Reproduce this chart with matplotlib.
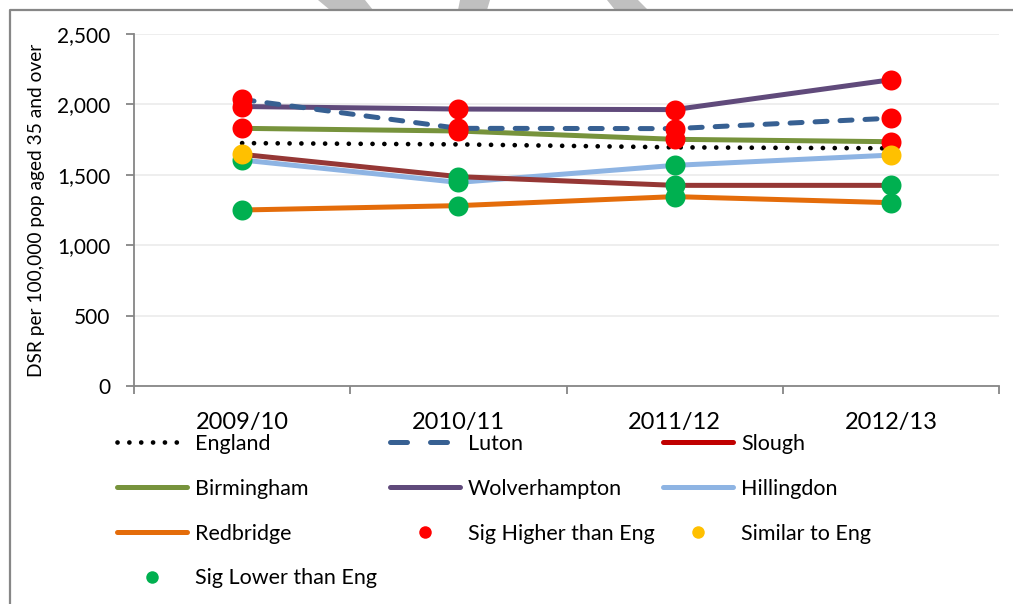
import numpy as np
import matplotlib
matplotlib.use("Agg")
import matplotlib.pyplot as plt
from matplotlib.lines import Line2D
from matplotlib.patches import Polygon

plt.rcParams['font.family'] = ['Lato', 'DejaVu Sans']

# ---------------------------------------------------------
# Data: DSR per 100,000 pop aged 35 and over
# ---------------------------------------------------------
years = ['2009/10', '2010/11', '2011/12', '2012/13']

england       = [1725, 1716, 1695, 1688]
luton         = [2035, 1830, 1828, 1902]
slough        = [1645, 1487, 1425, 1425]
birmingham    = [1830, 1811, 1752, 1735]
wolverhampton = [1985, 1967, 1963, 2175]
hillingdon    = [1605, 1446, 1567, 1640]
redbridge     = [1250, 1281, 1345, 1302]

# significance vs England: H = higher, S = similar, L = lower
sig_luton         = ['H', 'H', 'H', 'H']
sig_slough        = ['S', 'L', 'L', 'L']
sig_birmingham    = ['H', 'H', 'H', 'H']
sig_wolverhampton = ['H', 'H', 'H', 'H']
sig_hillingdon    = ['L', 'L', 'L', 'S']
sig_redbridge     = ['L', 'L', 'L', 'L']

# ---------------------------------------------------------
# Figure
# ---------------------------------------------------------
fig = plt.figure(figsize=(10.13, 6.04), dpi=100)
ax = fig.add_axes([134/1013, 1 - 386/604, (999 - 134)/1013, (386 - 34)/604])

x = np.arange(len(years))
lw = 3.6

ax.plot(x, redbridge, color='#E46C0A', lw=lw, solid_capstyle='round', zorder=3)
ax.plot(x, hillingdon, color='#8EB4E3', lw=lw, solid_capstyle='round', zorder=3)
ax.plot(x, slough, color='#953735', lw=lw, solid_capstyle='round', zorder=3)
ax.plot(x, birmingham, color='#77933C', lw=lw, solid_capstyle='round', zorder=3)
ax.plot(x, wolverhampton, color='#604A7B', lw=lw, solid_capstyle='round', zorder=3)
ax.plot(x, luton, color='#376092', lw=lw, ls=(0, (2.4, 2.6)),
        dash_capstyle='round', zorder=4)
ax.plot(x, england, color='black', lw=3.4, ls=(0, (0.01, 2.5)),
        dash_capstyle='round', zorder=5)

# significance markers
areas = [(luton, sig_luton), (slough, sig_slough), (birmingham, sig_birmingham),
         (wolverhampton, sig_wolverhampton), (hillingdon, sig_hillingdon),
         (redbridge, sig_redbridge)]
sig_style = {'H': ('#FF0000', 7), 'L': ('#00B050', 6), 'S': ('#FFC000', 8)}
for code, (col, z) in sig_style.items():
    px, py = [], []
    for vals, sig in areas:
        for i, s in enumerate(sig):
            if s == code:
                px.append(x[i])
                py.append(vals[i])
    ax.plot(px, py, 'o', ms=14.4, color=col, mec='none', ls='none', zorder=z)

# axes styling
ax.set_xlim(-0.5, len(years) - 0.5)
ax.set_ylim(0, 2500)
ax.set_yticks(np.arange(0, 2501, 500))
ax.yaxis.set_major_formatter(matplotlib.ticker.StrMethodFormatter('{x:,.0f}'))
ax.set_xticks(x)
ax.set_xticklabels(years, fontsize=17)
ax.set_xticks(np.arange(-0.5, len(years), 1), minor=True)
ax.tick_params(axis='x', which='major', length=0, pad=19)
ax.tick_params(axis='x', which='minor', length=6, color='#868686', width=1.3)
ax.tick_params(axis='y', length=6, color='#868686', width=1.3, labelsize=15, pad=11)
ax.grid(axis='y', color='#EDEDED', lw=1.3, zorder=0)
for s in ['top', 'right']:
    ax.spines[s].set_visible(False)
for s in ['left', 'bottom']:
    ax.spines[s].set_color('#868686')
    ax.spines[s].set_linewidth(1.3)
ax.set_ylabel('DSR per 100,000 pop aged 35 and over', fontsize=13.8)
ax.yaxis.set_label_coords(-0.103, 0.5)

# ---------------------------------------------------------
# Legend, laid out as three columns
# ---------------------------------------------------------
def line_h(color, **kw):
    return Line2D([], [], color=color, lw=lw, solid_capstyle='round', **kw)

def dot_h(color):
    return Line2D([], [], marker='o', ms=9, color=color, ls='none', mec='none')

columns = [
    ([Line2D([], [], color='black', lw=3.4, ls=(0, (0.01, 2.5)), dash_capstyle='round'),
      line_h('#77933C'), line_h('#E46C0A'), dot_h('#00B050')],
     ['England', 'Birmingham', 'Redbridge', 'Sig Lower than Eng'], 117),
    ([Line2D([], [], color='#376092', lw=lw, ls=(0, (3.4, 4.6)), dash_capstyle='round'),
      line_h('#604A7B'), dot_h('#FF0000')],
     ['Luton', 'Wolverhampton', 'Sig Higher than Eng'], 390),
    ([line_h('#C00000'), line_h('#8EB4E3'), dot_h('#FFC000')],
     ['Slough', 'Hillingdon', 'Similar to Eng'], 663),
]
for handles, labels, xpix in columns:
    leg = fig.legend(handles, labels, loc='upper left',
                     bbox_to_anchor=(xpix/1013, 1 - 434/604),
                     frameon=False, fontsize=15.5, handlelength=3.25,
                     handletextpad=0.37, labelspacing=1.15,
                     borderpad=0, borderaxespad=0)

# frame around the chart
fig.add_artist(Line2D([10/1013, 10/1013, 1.0], [0.0, 1 - 10/604, 1 - 10/604],
                      transform=fig.transFigure, color='#878787', lw=1.6))

# light grey watermark strokes along the top edge
for pts in [[(318, 0), (365, 0), (373, 10), (330, 10)],
            [(460, 0), (490, 0), (487, 10), (458, 10)],
            [(607, 0), (638, 0), (648, 10), (615, 10)]]:
    fig.add_artist(Polygon([(px/1013, 1 - py/604) for px, py in pts],
                           closed=True, transform=fig.transFigure,
                           facecolor='#C0C0C0', edgecolor='none'))

fig.savefig('out.png', dpi=100)
